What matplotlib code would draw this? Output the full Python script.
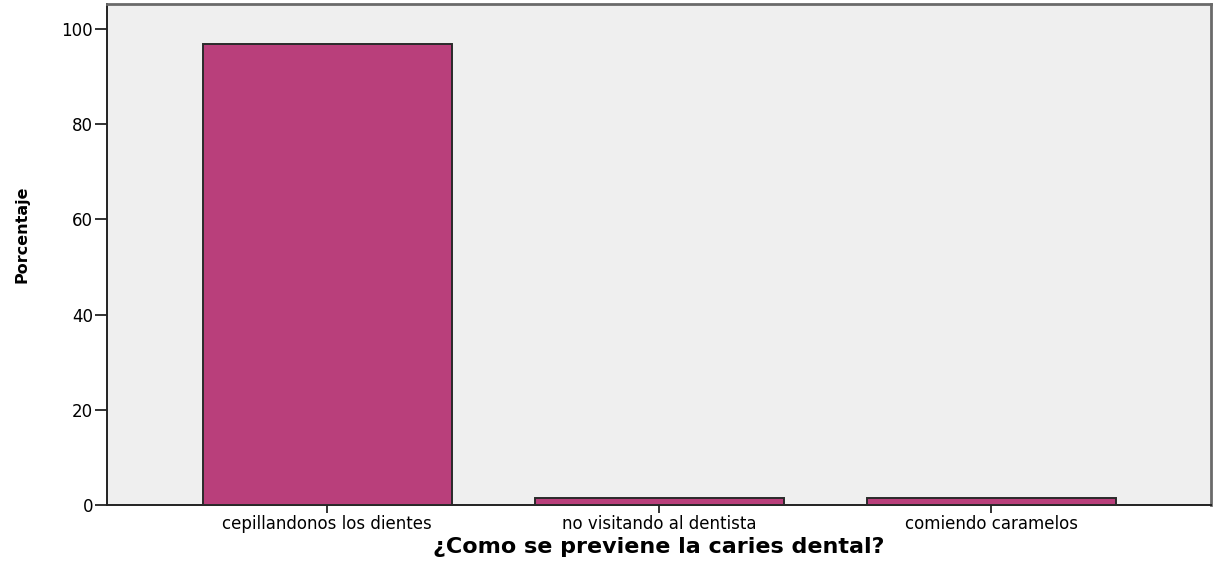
import matplotlib.pyplot as plt
import numpy as np

# Datos del gráfico
categorias = ["cepillandonos los dientes", "no visitando al dentista", "comiendo caramelos"]
porcentajes = [96.7, 1.6, 1.6]
yticks = [0, 20, 40, 60, 80, 100]

fig = plt.figure(figsize=(12.16, 5.67), dpi=100)
ax = fig.add_axes([0.088, 0.109, 0.908, 0.884])
ax.set_facecolor("#EFEFEF")

x = np.arange(len(categorias))
ax.bar(x, porcentajes, width=0.75, color="#B93F7B", edgecolor="#2a2a2a", linewidth=1.4, zorder=3)

ax.set_xlim(-0.663, 2.663)
ax.set_ylim(0, 105.2)
ax.set_yticks(yticks)
ax.set_xticks(x)
ax.set_xticklabels(categorias, fontsize=12, family="DejaVu Sans")
ax.set_yticklabels([str(v) for v in yticks], fontsize=12, family="DejaVu Sans")
ax.tick_params(axis="both", direction="out", width=1.3, color="#222222")
ax.tick_params(axis="y", length=9, pad=1)
ax.tick_params(axis="x", length=6, pad=1)

for s in ["left", "bottom"]:
    ax.spines[s].set_color("#222222")
    ax.spines[s].set_linewidth(1.4)
for s in ["top", "right"]:
    ax.spines[s].set_color("#6a6a6a")
    ax.spines[s].set_linewidth(2)

ax.set_xlabel("¿Como se previene la caries dental?", fontsize=16, fontweight="bold",
              family="DejaVu Sans", labelpad=3)
ax.set_ylabel("Porcentaje", fontsize=11.5, fontweight="bold", family="DejaVu Sans")
ax.yaxis.set_label_coords(-0.07, 0.54)

fig.savefig("out.png", dpi=100)
